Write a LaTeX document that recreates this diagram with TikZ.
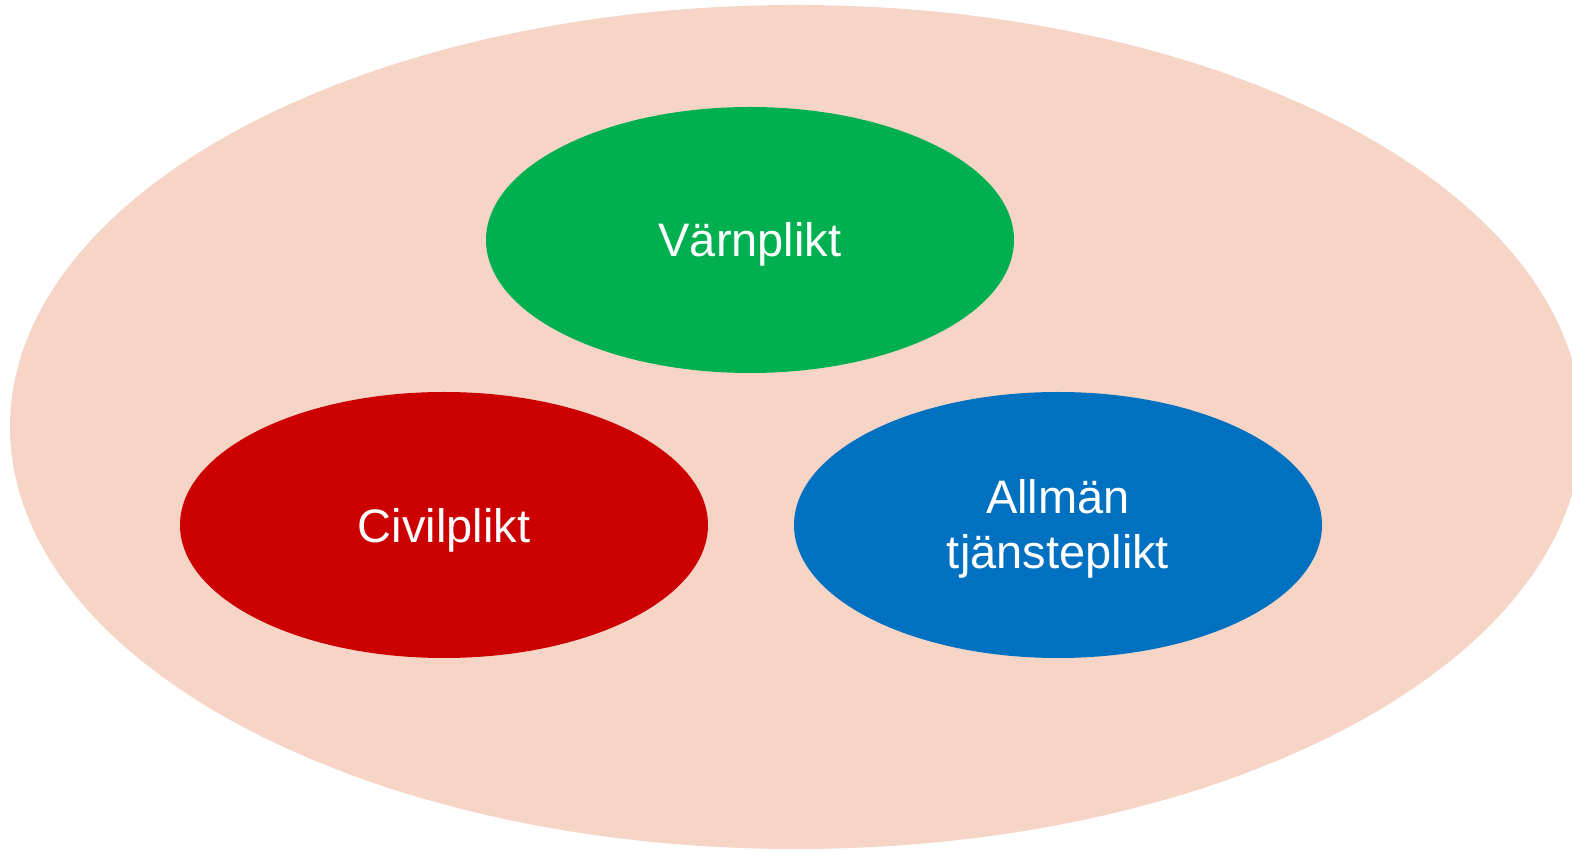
\documentclass[tikz,border=0pt]{standalone}
\usepackage{fontspec}
\setmainfont{Liberation Sans}
\usetikzlibrary{shapes.geometric}
\definecolor{bgpink}{HTML}{F6D5C7}
\definecolor{vgreen}{HTML}{00B050}
\definecolor{cred}{HTML}{CC0000}
\definecolor{ablue}{HTML}{0070C0}
\tikzset{
  blob/.style={ellipse, draw=none, minimum width=528pt, minimum height=266pt, inner sep=0pt},
  lbl/.style={text=white, align=center, inner sep=0pt, font=\fontsize{47}{55}\selectfont}
}
\begin{document}
\begin{tikzpicture}[x=1pt,y=1pt]
\useasboundingbox (0,0) rectangle (1572,852);
\begin{scope}
\clip (0,0) rectangle (1572,852);
\node[ellipse, fill=bgpink, draw=none, minimum width=1572pt, minimum height=844pt, inner sep=0pt] (outer) at (796,425) {};
\end{scope}
\node[blob, fill=vgreen] (varn) at (750,612) {};
\node[blob, fill=cred] (civil) at (444,327) {};
\node[blob, fill=ablue] (allman) at (1058,327) {};
\node[lbl] (varn-t) at ([yshift=-4pt]varn.center) {Värnplikt};
\node[lbl] (civil-t) at ([yshift=-5pt]civil.center) {Civilplikt};
\node[lbl] (allman-t) at ([yshift=-4pt]allman.center) {Allmän\\tjänsteplikt};
\end{tikzpicture}
\end{document}
